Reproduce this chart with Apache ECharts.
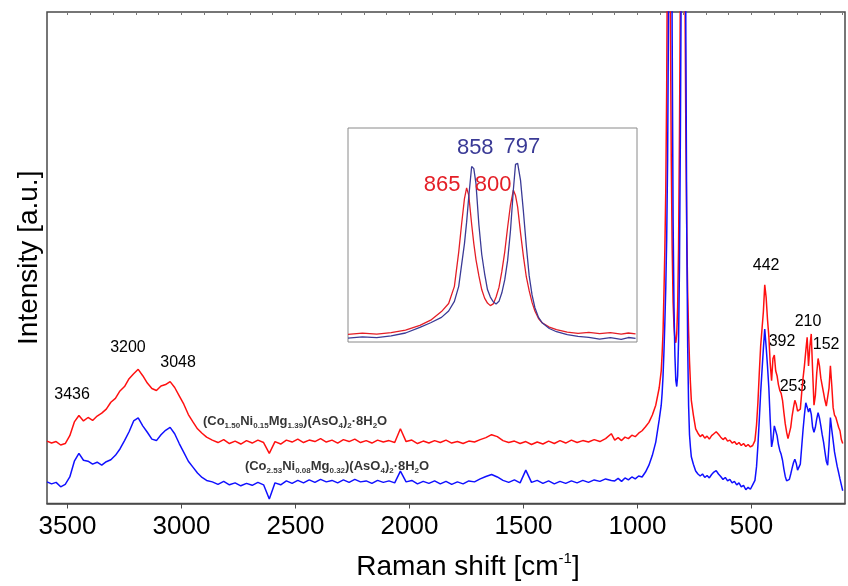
<!DOCTYPE html>
<html>
<head>
<meta charset="utf-8">
<script src="https://cdn.jsdelivr.net/npm/echarts@6/dist/echarts.min.js"></script>
<style>
  html, body { margin: 0; padding: 0; background: #fff; }
  #chart { width: 848px; height: 586px; }
</style>
</head>
<body>
<div id="chart"></div>
<script>
// Raman shift grid (cm-1)
var shift = [
  3590,3570,3550,3530,3510,3490,3470,3450,3430,3410,3390,3370,3350,3330,3310,3290,3270,3250,3230,3210,3190,3170,3150,3130,3110,3090,3070,3050,3030,3010,2990,2970,2950,2930,2910,2890,
  2865,2840,2815,2790,2765,2740,2715,2690,2665,2640,
  2615,2590,2565,2540,2515,2490,2465,2440,2415,2390,
  2365,2340,2315,2290,2265,2240,2215,2190,2165,2140,
  2115,2090,2065,2040,2015,1990,1965,1940,1915,1890,
  1865,1840,1815,1790,1765,1740,1715,1690,1665,1640,
  1615,1590,1565,1540,1515,1490,1465,1440,1415,1390,
  1365,1340,1315,1290,1265,1240,1215,1190,1165,1140,
  1115,
  1100,1085,1070,1055,1040,1025,1010,995,980,965,950,935,920,905,
  896,892,888,884,880,876,872,868,864,860,856,852,848,844,840,836,832,828,824,820,
  816,812,808,804,800,796,792,788,784,780,776,772,768,764,
  755,745,735,725,715,705,695,685,675,665,655,645,635,625,615,605,595,585,575,565,
  555,545,535,525,515,505,495,485,
  478,472,466,460,454,448,442,436,430,424,
  418,412,406,400,394,388,382,376,370,364,
  358,352,346,340,334,328,322,316,310,304,
  298,292,286,280,274,268,262,256,250,244,
  238,232,226,220,214,208,202,196,190,184,
  178,172,166,160,154,148,142,136,130,124,
  118,112,106,100
];

// (Co1.50Ni0.15Mg1.39)(AsO4)2·8H2O, upper trace
var red = [
  12.7,12.3,12.6,11.9,12.2,13.8,16.6,17.9,16.8,17.5,16.9,17.8,18.4,19.2,20.6,21.4,22.9,23.8,25.4,26.4,27.3,26.0,24.5,23.4,23.0,23.9,24.2,24.8,23.6,21.9,20.2,18.1,16.6,15.2,14.3,13.5,
  12.9,12.4,13.0,12.2,12.7,12.1,12.8,12.3,12.9,12.4,
  10.2,12.6,12.1,12.9,12.5,13.1,12.4,12.9,12.6,13.2,
  12.5,12.9,12.3,13.0,12.6,13.1,12.4,12.8,12.3,12.9,
  12.5,12.8,12.4,15.2,12.6,12.9,12.2,12.7,12.3,12.8,
  12.4,12.9,12.3,12.6,12.2,12.7,12.5,13.0,13.4,14.0,
  13.6,12.8,12.4,12.7,12.2,12.6,12.0,12.5,12.1,12.7,
  12.2,12.8,12.3,12.9,12.4,12.8,12.5,13.0,12.6,13.2,
  14.2,
  12.9,13.4,12.8,13.5,13.2,13.9,13.6,14.3,14.8,15.6,16.5,18.0,20.0,23.5,
  27.0,30.5,35.0,43.0,52.0,64.0,85.0,120,150,135,100,70,52,41,36,33.5,32.7,34.5,40,52,
  75,105,135,150,155,135,105,75,55,43,35,29,24.6,21,
  18.0,15.2,14.3,13.6,14.0,13.3,13.7,13.1,13.8,14.2,14.6,14.1,13.5,13.0,13.4,12.7,12.9,12.3,12.6,12.0,
  12.4,11.8,12.2,11.6,12.0,11.5,11.8,12.8,
  16.0,20.5,26.5,32.0,35.5,39.0,44.5,42.0,37.5,34.0,
  28.5,25.0,29.5,30.2,27.0,26.0,24.2,23.0,22.4,21.0,
  18.5,16.2,14.5,13.2,13.6,15.5,17.8,19.5,21.0,20.2,
  18.8,18.6,19.2,22.5,25.5,28.0,31.0,33.8,28.0,32.0,
  34.5,27.0,20.0,22.0,26.5,29.5,28.0,25.5,24.0,22.5,
  21.0,19.8,19.5,23.5,28.0,24.0,19.5,18.0,17.5,16.5,
  15.5,14.8,13.0,12.2
];

// (Co2.53Ni0.08Mg0.32)(AsO4)2·8H2O, lower trace
var blue = [
  4.4,4.0,4.3,3.4,3.9,5.4,8.6,10.2,8.8,8.6,8.0,8.4,7.8,8.5,8.9,9.8,11.1,12.8,14.6,16.8,17.4,15.8,14.5,13.1,12.8,14.0,14.9,15.5,14.2,12.2,10.4,8.6,7.4,6.2,5.3,4.7,
  4.4,3.9,4.5,3.8,4.2,3.6,4.1,3.7,4.3,3.8,
  0.9,4.2,3.8,4.6,4.1,4.7,4.2,4.8,4.3,4.9,
  4.4,4.7,4.2,4.8,4.3,4.9,4.4,4.6,4.1,4.7,
  4.3,4.6,4.2,6.6,4.4,4.7,4.0,4.5,4.1,4.6,
  4.0,4.5,3.9,4.4,4.0,4.6,4.4,5.0,5.5,5.9,
  5.4,4.7,4.3,4.8,4.2,6.8,4.3,4.7,4.1,4.6,
  4.0,4.5,4.1,4.6,4.2,4.7,4.3,4.8,4.5,5.0,
  4.7,
  4.6,5.1,4.5,5.2,4.8,5.4,5.0,5.6,5.4,6.4,7.8,9.8,12.5,17.0,
  20.0,22.5,26.0,31.0,37.0,44.0,54.0,70.0,100,145,170,140,95,58,40,30,25,23.8,26,33,
  48,75,110,145,170,175,145,95,55,32,20,14,11.5,9.5,
  8.0,6.6,6.0,5.6,6.0,5.3,5.7,5.2,5.9,6.4,6.7,6.0,5.5,4.9,5.3,4.6,4.9,4.2,4.5,3.8,
  4.2,3.4,3.7,2.8,3.3,2.9,3.8,4.7,
  7.5,11.8,17.0,22.5,27.0,31.5,35.5,32.0,28.0,23.5,
  17.0,11.5,13.0,15.8,15.5,13.8,12.0,10.8,10.0,8.8,
  7.0,5.5,4.6,4.3,4.9,6.0,7.2,8.3,9.0,8.2,
  6.8,6.4,8.0,11.5,15.0,18.0,20.5,19.6,18.6,19.4,
  18.2,15.5,14.5,15.5,17.2,18.5,17.4,15.8,14.0,12.5,
  10.5,8.6,7.8,12.0,17.5,15.0,12.8,10.5,9.0,7.5,
  6.3,5.0,3.8,2.6
];

// inset: zoom on the As-O stretching doublet
var insetShift = [
  1030,1010,990,970,950,930,915,900,890,882,
  876,872,868,865,862,858,855,852,848,844,
  840,836,832,828,824,820,816,812,808,804,
  800,797,794,790,786,782,778,774,770,765,
  760,750,740,725,710,695,680,665,650,640,
  630
];
var insetRed = [
  3.6,4.1,3.7,4.4,5.5,7.8,10.2,14.2,18.0,26.0,
  42.0,55.0,67.0,72.0,68.5,55.0,46.0,38.5,31.0,24.5,
  20.5,18.2,17.0,17.8,21.0,25.5,33.0,42.0,53.5,64.0,
  71.0,68.5,63.0,51.0,40.0,30.5,24.0,18.5,14.5,11.0,
  9.0,7.0,5.8,4.6,4.0,4.5,3.9,4.4,3.7,4.2,
  3.8
];
var insetBlue = [
  1.8,2.4,2.0,2.9,4.2,6.8,9.0,11.5,14.5,19.0,
  26.0,36.0,46.0,56.0,68.0,82.0,81.0,74.0,55.0,41.0,
  32.0,24.5,21.0,18.8,17.8,19.0,23.0,29.0,38.0,52.0,
  71.0,83.0,83.5,75.5,61.0,45.0,31.0,22.0,16.0,11.5,
  9.0,6.3,4.8,3.4,2.6,2.2,1.3,2.0,1.2,2.1,
  1.7
];

// peak annotations [shift, height, text]
var peakLabels = [
  [3480, 22.1, '3436'], [3235, 31.8, '3200'], [3015, 28.6, '3048'],
  [436, 48.5, '442'], [366, 32.9, '392'], [318, 23.7, '253'],
  [252, 37.1, '210'], [173, 32.3, '152']
];
var insetLabelsBlue = [[853, 90.7, '858'], [788, 91.1, '797']];
var insetLabelsRed = [[899, 73.4, '865'], [828, 73.4, '800']];

var majorTicks = [3500, 3000, 2500, 2000, 1500, 1000, 500];
var minorTicks = [];
for (var t = 100; t <= 3500; t += 100) minorTicks.push(t);
var insetTicks = [1000, 950, 900, 850, 800, 750, 700, 650];

function zip(xs, ys) {
  return xs.map(function (x, i) { return [x, ys[i]]; });
}

var FONT = 'Liberation Sans, Arial, sans-serif';
var RED = '#ff1010', BLUE = '#1010ff';
var IRED = '#e41e26', IBLUE = '#3a3a96';

// plain text label for the invisible anchor points
function textLabel(size, color) {
  return { show: true, position: 'inside', fontSize: size, color: color, fontFamily: FONT,
    textBorderWidth: 0, textBorderColor: 'transparent', opacity: 1,
    formatter: function (p) { return p.value[2]; } };
}

var chart = echarts.init(document.getElementById('chart'), null, { renderer: 'canvas' });

var option = {
  backgroundColor: '#fff',
  animation: false,
  textStyle: { fontFamily: FONT },
  grid: [
    { left: 47, top: 12, width: 798, height: 493, show: true,
      borderColor: '#4a4a4a', borderWidth: 1.5, backgroundColor: '#fff' },
    { left: 348, top: 128, width: 289, height: 214, show: true,
      borderColor: '#8a8a8a', borderWidth: 1, backgroundColor: '#fff', z: 5 }
  ],
  xAxis: [
    { type: 'value', gridIndex: 0, min: 90, max: 3590, inverse: true,
      name: '{a|Raman shift [cm}{s|-1}{a|]}', nameLocation: 'middle', nameGap: 48,
      nameTextStyle: { padding: [0, 0, 0, 44], rich: {
        a: { fontSize: 28, color: '#000', fontFamily: FONT },
        s: { fontSize: 15, color: '#000', fontFamily: FONT, padding: [0, 0, 16, 0] }
      } },
      axisLine: { show: true, lineStyle: { color: '#4a4a4a', width: 1.5 } },
      axisTick: { show: true, customValues: majorTicks, length: 5, lineStyle: { color: '#4a4a4a' } },
      axisLabel: { customValues: majorTicks, fontSize: 26, color: '#000', margin: 10, fontFamily: FONT,
        formatter: function (v) { return String(v); } },
      splitLine: { show: false } },
    { type: 'value', gridIndex: 0, min: 90, max: 3590, inverse: true,
      axisLine: { show: false },
      axisTick: { show: true, inside: true, customValues: minorTicks, length: 3, lineStyle: { color: '#777' } },
      axisLabel: { show: false }, splitLine: { show: false } },
    { type: 'value', gridIndex: 1, min: 628, max: 1030, inverse: true,
      axisLine: { show: false },
      axisTick: { show: true, inside: true, customValues: insetTicks, length: 4, lineStyle: { color: '#8a8a8a' } },
      axisLabel: { show: false }, splitLine: { show: false } }
  ],
  yAxis: [
    { type: 'value', gridIndex: 0, min: 0, max: 100,
      name: 'Intensity [a.u.]', nameLocation: 'middle', nameGap: 4,
      nameTextStyle: { fontSize: 28, color: '#000', fontFamily: FONT },
      axisLine: { show: false }, axisTick: { show: false },
      axisLabel: { show: false }, splitLine: { show: false } },
    { type: 'value', gridIndex: 1, min: 0, max: 100,
      axisLine: { show: false }, axisTick: { show: false },
      axisLabel: { show: false }, splitLine: { show: false } }
  ],
  series: [
    { name: 'red', type: 'line', xAxisIndex: 0, yAxisIndex: 0, data: zip(shift, red),
      showSymbol: false, clip: true, lineStyle: { color: RED, width: 1.5 }, silent: true },
    { name: 'blue', type: 'line', xAxisIndex: 0, yAxisIndex: 0, data: zip(shift, blue),
      showSymbol: false, clip: true, lineStyle: { color: BLUE, width: 1.5 }, silent: true },
    { name: 'inset red', type: 'line', xAxisIndex: 2, yAxisIndex: 1, data: zip(insetShift, insetRed),
      showSymbol: false, clip: true, z: 6, lineStyle: { color: IRED, width: 1.3 }, silent: true },
    { name: 'inset blue', type: 'line', xAxisIndex: 2, yAxisIndex: 1, data: zip(insetShift, insetBlue),
      showSymbol: false, clip: true, z: 6, lineStyle: { color: IBLUE, width: 1.3 }, silent: true },
    { type: 'scatter', xAxisIndex: 0, yAxisIndex: 0, data: peakLabels, symbolSize: 0, silent: true,
      label: textLabel(16, '#000') },
    { type: 'scatter', xAxisIndex: 2, yAxisIndex: 1, data: insetLabelsBlue, symbolSize: 0, z: 7, silent: true,
      label: textLabel(22, IBLUE) },
    { type: 'scatter', xAxisIndex: 2, yAxisIndex: 1, data: insetLabelsRed, symbolSize: 0, z: 7, silent: true,
      label: textLabel(22, IRED) },
    { type: 'scatter', xAxisIndex: 0, yAxisIndex: 0, symbolSize: 0, silent: true,
      data: [
        [2906, 16.6, '{m|(Co}{s|1.50}{m|Ni}{s|0.15}{m|Mg}{s|1.39}{m|)(AsO}{s|4}{m|)}{s|2}{m|·8H}{s|2}{m|O}'],
        [2722, 7.5, '{m|(Co}{s|2.53}{m|Ni}{s|0.08}{m|Mg}{s|0.32}{m|)(AsO}{s|4}{m|)}{s|2}{m|·8H}{s|2}{m|O}']
      ],
      label: { show: true, position: 'right', distance: 0, textBorderWidth: 0,
        formatter: function (p) { return p.value[2]; },
        rich: {
          m: { fontSize: 13, fontWeight: 'bold', color: '#000', fontFamily: FONT, lineHeight: 18 },
          s: { fontSize: 8, fontWeight: 'bold', color: '#000', fontFamily: FONT, padding: [8, 0, 0, 0] }
        } } }
  ]
};

chart.setOption(option);
</script>
</body>
</html>
